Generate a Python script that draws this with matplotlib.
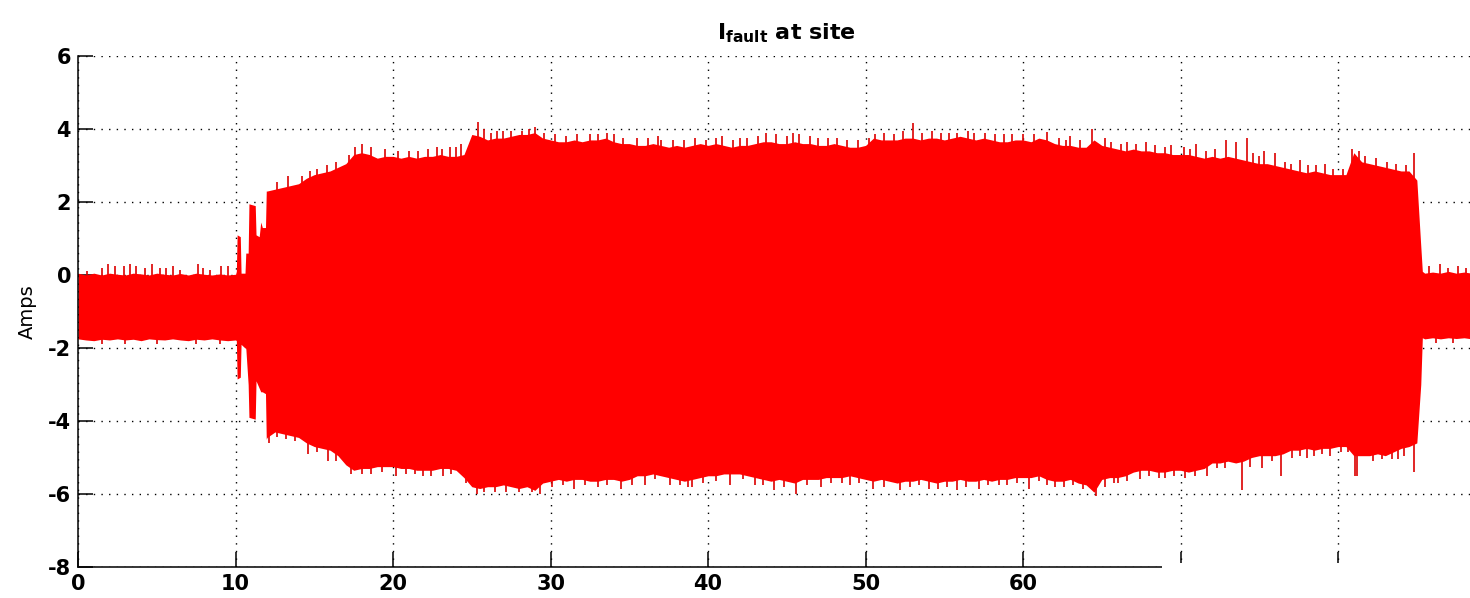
import numpy as np
import matplotlib.pyplot as plt
from matplotlib.patches import Rectangle

plt.rcParams['font.family'] = 'DejaVu Sans'
plt.rcParams['font.weight'] = 'bold'
plt.rcParams['axes.unicode_minus'] = False

# envelope of the fault current (Amps)
# before the fault
t_pre = [0.0, 0.5, 1.0, 1.5, 2.0, 2.5, 3.0, 3.5, 4.0, 4.5, 5.0,
         5.5, 6.0, 6.5, 7.0, 7.5, 8.0, 8.5, 9.0, 9.5, 10.0]
up_pre = [0.05, 0.00, 0.05, 0.00, 0.05, 0.02, 0.00, 0.05, 0.03, 0.00, 0.05,
          0.02, 0.00, 0.04, 0.00, 0.05, 0.02, 0.00, 0.03, 0.00, 0.02]
lo_pre = [-1.75, -1.78, -1.80, -1.76, -1.78, -1.75, -1.78, -1.76, -1.80, -1.75, -1.77,
          -1.78, -1.75, -1.78, -1.80, -1.76, -1.78, -1.75, -1.78, -1.80, -1.78]

# fault onset
t_onset = [10.05, 10.10, 10.30, 10.35, 10.60, 10.65, 10.80, 10.85,
           11.25, 11.30, 11.50, 11.60, 11.70, 11.90, 11.95]
up_onset = [0.10, 1.10, 1.05, 0.05, 0.05, 0.60, 0.60, 1.95,
            1.90, 1.10, 1.05, 1.45, 1.30, 1.30, 2.30]
lo_onset = [-1.80, -2.85, -2.80, -1.90, -2.00, -2.00, -3.00, -3.90,
            -3.95, -2.90, -3.10, -3.20, -3.20, -3.25, -4.50]

# during the fault, every 0.5 s from 12 to 85
t_fault = np.arange(12.0, 85.01, 0.5)
up_fault = [2.30, 2.35, 2.40, 2.45, 2.50, 2.65, 2.75, 2.80, 2.85, 2.95,
            3.05, 3.30, 3.35, 3.30, 3.20, 3.25, 3.25, 3.20, 3.25, 3.20,
            3.25, 3.25, 3.30, 3.25, 3.25, 3.30, 3.85, 3.80, 3.70, 3.75,
            3.75, 3.80, 3.85, 3.85, 3.90, 3.75, 3.70, 3.65, 3.65, 3.70,
            3.65, 3.70, 3.70, 3.75, 3.65, 3.60, 3.60, 3.55, 3.55, 3.60,
            3.55, 3.50, 3.55, 3.50, 3.55, 3.60, 3.55, 3.60, 3.55, 3.50,
            3.55, 3.55, 3.60, 3.65, 3.65, 3.60, 3.60, 3.65, 3.60, 3.60,
            3.55, 3.55, 3.60, 3.55, 3.50, 3.50, 3.55, 3.75, 3.70, 3.70,
            3.70, 3.75, 3.75, 3.70, 3.75, 3.75, 3.70, 3.75, 3.80, 3.75,
            3.70, 3.75, 3.70, 3.65, 3.65, 3.70, 3.70, 3.65, 3.75, 3.70,
            3.60, 3.55, 3.55, 3.50, 3.50, 3.70, 3.55, 3.50, 3.45, 3.40,
            3.45, 3.40, 3.40, 3.35, 3.35, 3.30, 3.30, 3.30, 3.25, 3.20,
            3.25, 3.20, 3.25, 3.20, 3.15, 3.10, 3.05, 3.05, 3.00, 2.95,
            2.90, 2.85, 2.80, 2.85, 2.80, 2.75, 2.75, 2.75, 3.35, 3.10,
            3.05, 3.00, 2.95, 2.90, 2.85, 2.85, 2.60]
lo_fault = [-4.45, -4.30, -4.35, -4.40, -4.45, -4.60, -4.70, -4.75, -4.80, -4.95,
            -5.20, -5.35, -5.30, -5.30, -5.25, -5.25, -5.25, -5.30, -5.30, -5.35,
            -5.35, -5.35, -5.30, -5.30, -5.35, -5.55, -5.80, -5.85, -5.80, -5.80,
            -5.75, -5.80, -5.85, -5.80, -5.90, -5.70, -5.65, -5.60, -5.65, -5.60,
            -5.60, -5.65, -5.65, -5.60, -5.60, -5.65, -5.60, -5.50, -5.50, -5.45,
            -5.50, -5.55, -5.60, -5.65, -5.60, -5.55, -5.50, -5.50, -5.45, -5.45,
            -5.45, -5.50, -5.55, -5.60, -5.65, -5.60, -5.65, -5.70, -5.60, -5.60,
            -5.60, -5.55, -5.55, -5.55, -5.50, -5.55, -5.60, -5.65, -5.60, -5.65,
            -5.70, -5.65, -5.65, -5.60, -5.65, -5.70, -5.65, -5.65, -5.60, -5.65,
            -5.65, -5.60, -5.65, -5.60, -5.60, -5.55, -5.55, -5.55, -5.50, -5.60,
            -5.65, -5.65, -5.60, -5.70, -5.75, -5.95, -5.60, -5.55, -5.55, -5.50,
            -5.40, -5.35, -5.35, -5.40, -5.40, -5.35, -5.35, -5.40, -5.35, -5.30,
            -5.15, -5.15, -5.10, -5.15, -5.10, -5.00, -4.95, -4.95, -4.95, -4.90,
            -4.80, -4.80, -4.75, -4.80, -4.75, -4.75, -4.70, -4.70, -4.95, -4.95,
            -4.95, -4.90, -4.95, -4.85, -4.75, -4.70, -4.60]

# after the breaker opens
t_post = [85.25, 85.35, 85.5, 86.0, 86.5, 87.0, 87.5, 88.0, 88.5]
up_post = [0.80, 0.10, 0.05, 0.08, 0.05, 0.10, 0.05, 0.08, 0.05]
lo_post = [-3.00, -1.72, -1.75, -1.72, -1.75, -1.72, -1.74, -1.72, -1.75]

# tall single peaks sticking out of the envelope
peak_hi_t = [0.55, 1.5, 1.9, 2.35, 2.9, 3.3, 3.7, 4.25, 4.7, 5.2, 5.6, 6.05, 6.5,
             7.6, 7.95, 8.4, 9.1, 9.55,
             13.3, 14.7, 15.8, 17.6, 18.0, 19.5, 21.0, 22.8, 23.6, 24.3, 25.4,
             26.2, 27.0, 28.2, 29.0, 31.0, 32.5, 34.0, 35.5, 37.0, 38.5, 40.5,
             42.0, 43.7, 45.4, 46.5, 48.2, 50.6, 51.8, 53.0, 54.2, 55.3, 56.5,
             57.6, 59.3, 61.5, 63.0, 64.4, 65.2, 66.6, 67.8, 69.4, 71.0, 72.9,
             73.5, 74.2, 75.3, 76.0, 77.6, 79.2, 80.9, 81.3, 84.8,
             85.8, 86.5, 87.0, 87.6, 88.1]
peak_hi_v = [0.10, 0.20, 0.30, 0.25, 0.25, 0.30, 0.25, 0.20, 0.30, 0.20, 0.20, 0.25, 0.15,
             0.30, 0.20, 0.15, 0.25, 0.25,
             2.70, 2.85, 3.00, 3.50, 3.60, 3.45, 3.40, 3.50, 3.50, 3.60, 4.20,
             3.90, 3.95, 3.95, 4.05, 3.80, 3.85, 3.85, 3.75, 3.70, 3.70, 3.75,
             3.75, 3.90, 3.90, 3.80, 3.75, 3.85, 3.85, 4.17, 3.95, 3.90, 3.95,
             3.90, 3.85, 3.92, 3.80, 4.00, 3.75, 3.65, 3.65, 3.55, 3.60, 3.70,
             3.65, 3.75, 3.40, 3.35, 3.15, 3.05, 3.45, 3.40, 3.35,
             0.25, 0.30, 0.20, 0.25, 0.20]
peak_lo_t = [1.5, 3.0, 5.0, 7.5, 9.0,
             12.1, 13.2, 14.6, 15.9, 17.3, 18.0, 20.2, 21.4, 22.4, 23.2, 25.3,
             26.5, 29.3, 31.5, 33.0, 34.5, 36.0, 37.6, 39.0, 41.4, 43.0, 44.2,
             45.6, 47.2, 49.0, 50.5, 52.2, 54.0, 55.8, 57.2, 59.0, 60.4, 62.0,
             64.6, 66.0, 67.4, 69.0, 70.3, 71.7, 73.9, 75.2, 76.4, 78.0, 79.5,
             81.1, 81.2, 83.8, 84.8,
             86.2, 87.3]
peak_lo_v = [-1.90, -1.88, -1.90, -1.90, -1.88,
             -4.60, -4.50, -4.90, -5.10, -5.45, -5.45, -5.50, -5.45, -5.50, -5.50, -6.00,
             -5.95, -6.00, -5.85, -5.80, -5.85, -5.75, -5.75, -5.80, -5.75, -5.75, -5.90,
             -6.00, -5.80, -5.75, -5.85, -5.90, -5.85, -5.90, -5.85, -5.75, -5.85, -5.80,
             -6.05, -5.70, -5.60, -5.55, -5.55, -5.50, -5.90, -5.30, -5.50, -5.00, -4.95,
             -5.50, -5.50, -5.05, -5.40,
             -1.85, -1.85]

# shorter peaks (the ragged edge)
small_hi_t = [12.6, 14.2, 15.2, 16.4, 17.2, 18.6, 20.3, 21.6, 22.2, 23.1, 24.0,
              25.8, 26.6, 27.5, 28.6, 29.6, 30.3, 31.7, 33.0, 33.6, 34.6, 36.2,
              36.8, 37.8, 39.2, 39.9, 40.9, 41.6, 42.5, 43.2, 44.3, 45.0, 45.8,
              47.0, 47.6, 48.8, 49.5, 50.2, 51.2, 52.4, 53.6, 54.8, 55.8, 56.9,
              58.2, 58.8, 60.0, 60.7, 62.3, 62.7, 63.6, 65.6, 66.2, 67.2, 68.4,
              69.0, 70.2, 70.6, 71.6, 72.2, 74.6, 75.0, 76.6, 77.0, 78.1, 78.6,
              79.7, 80.3, 81.7, 82.4, 83.1, 83.7, 84.3]
small_hi_v = [2.55, 2.70, 2.90, 3.10, 3.30, 3.50, 3.40, 3.40, 3.45, 3.45, 3.50,
              4.00, 3.95, 3.95, 4.00, 3.90, 3.85, 3.85, 3.85, 3.90, 3.75, 3.75,
              3.80, 3.70, 3.75, 3.70, 3.80, 3.70, 3.75, 3.80, 3.85, 3.80, 3.85,
              3.75, 3.75, 3.70, 3.70, 3.75, 3.90, 3.95, 3.90, 3.90, 3.90, 3.90,
              3.85, 3.85, 3.85, 3.85, 3.75, 3.70, 3.70, 3.65, 3.60, 3.60, 3.55,
              3.50, 3.50, 3.45, 3.40, 3.45, 3.35, 3.25, 3.10, 3.05, 3.00, 3.00,
              2.90, 2.90, 3.25, 3.20, 3.10, 3.05, 3.00]
small_lo_t = [12.6, 13.8, 15.2, 16.4, 18.6, 19.3, 20.8, 21.9, 23.7, 24.6, 25.8,
              27.2, 28.0, 28.8, 30.1, 30.8, 32.2, 33.6, 35.2, 36.6, 38.2, 38.7,
              39.7, 40.5, 42.2, 43.5, 44.8, 46.3, 47.8, 48.5, 49.6, 51.2, 52.8,
              53.4, 54.6, 55.2, 56.4, 57.8, 58.5, 59.6, 61.0, 61.5, 62.6, 63.2,
              63.8, 65.2, 65.8, 66.6, 68.0, 68.6, 69.6, 70.9, 72.3, 72.8, 74.4,
              75.8, 77.1, 77.6, 78.5, 79.0, 80.2, 80.6, 82.2, 82.8, 83.4, 84.2]
small_lo_v = [-4.45, -4.55, -4.85, -5.10, -5.45, -5.40, -5.45, -5.50, -5.45, -5.70, -5.95,
              -5.95, -5.95, -5.95, -5.80, -5.75, -5.75, -5.75, -5.75, -5.60, -5.75, -5.80,
              -5.70, -5.65, -5.60, -5.75, -5.80, -5.75, -5.70, -5.70, -5.70, -5.80, -5.80,
              -5.75, -5.85, -5.80, -5.80, -5.75, -5.75, -5.70, -5.65, -5.75, -5.80, -5.75,
              -5.85, -5.80, -5.70, -5.65, -5.50, -5.55, -5.50, -5.50, -5.30, -5.30, -5.25,
              -5.10, -5.00, -4.95, -4.95, -4.90, -4.85, -4.85, -5.10, -5.05, -5.05, -4.95]

t = np.concatenate([t_pre, t_onset, t_fault, t_post])
upper = np.concatenate([up_pre, up_onset, up_fault, up_post])
lower = np.concatenate([lo_pre, lo_onset, lo_fault, lo_post])

fig = plt.figure(figsize=(14.7, 5.98), dpi=100)
ax = fig.add_axes([0.0531, 0.0518, 0.9643, 0.8546])

for pt, pv in [(peak_hi_t, peak_hi_v), (peak_lo_t, peak_lo_v),
               (small_hi_t, small_hi_v), (small_lo_t, small_lo_v)]:
    ax.vlines(pt, -1, pv, color='#dc0000', lw=1.2, zorder=1)
ax.fill_between(t, lower, upper, color='#ff0000', lw=0, zorder=2)

ax.set_xlim(0, 90)
ax.set_ylim(-8, 6)
ax.set_xticks(range(0, 81, 10))
ax.set_yticks(range(-8, 7, 2))
ax.grid(True, color='black', linestyle=(0, (1, 4.5)), linewidth=1.0)
ax.set_axisbelow(True)
ax.spines['top'].set_visible(False)
ax.spines['right'].set_visible(False)
for s in ['left', 'bottom']:
    ax.spines[s].set_linewidth(1.1)
ax.tick_params(direction='in', length=11, width=1.1, labelsize=15, pad=5)

ax.set_title(r'$\mathbf{I_{fault}}$ at site', fontsize=16, fontweight='bold', pad=12)
ax.set_ylabel('Amps', fontsize=14, fontweight='normal', labelpad=8)

# the lower right corner of the original export is blanked out
fig.add_artist(Rectangle((1162 / 1470, 0), 1 - 1162 / 1470, 35 / 598,
                         transform=fig.transFigure, facecolor='white',
                         edgecolor='none', zorder=10))

fig.savefig('out.png', dpi=100)
